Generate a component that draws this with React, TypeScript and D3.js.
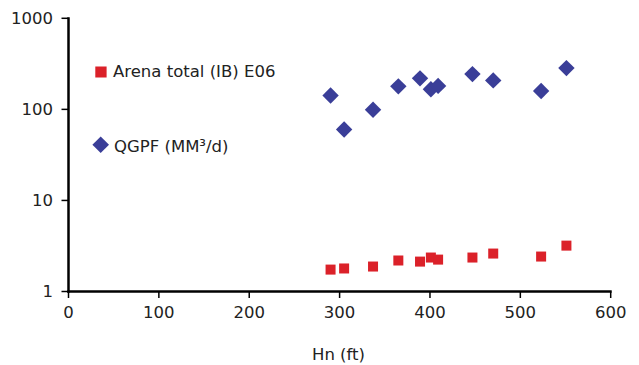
import React from "react";
import * as d3 from "d3";

const hn = [290, 305, 337, 365, 389, 401, 409, 447, 470, 523, 551];
const arenaTotal = [1.74, 1.79, 1.88, 2.19, 2.13, 2.36, 2.24, 2.36, 2.61, 2.42, 3.19];
const qgpf = [142, 60, 99, 179, 219, 166, 181, 244, 208, 159, 284];
const xTicks = [0, 100, 200, 300, 400, 500, 600];
const yTicks = [1, 10, 100, 1000];
const seriesNames = ["Arena total (IB) E06", "QGPF (MM³/d)"];

const RED = "#db2129";
const BLUE = "#3a3e98";
const FONT = "'DejaVu Sans', sans-serif";

export default function App() {
  const x = d3.scaleLinear().domain([0, 600]).range([68.5, 610.7]);
  const y = d3.scaleLog().domain([1, 1000]).range([291.5, 18.3]);
  const diamond = (cx: number, cy: number, r: number) =>
    `M${cx},${cy - r}L${cx + r},${cy}L${cx},${cy + r}L${cx - r},${cy}Z`;

  return (
    <svg
      width={639}
      height={365}
      style={{ position: "absolute", left: 0, top: 0, background: "#fff" }}
      fontFamily={FONT}
    >
      <rect width={639} height={365} fill="#fff" />
      {/* y axis */}
      <line x1={x(0)} x2={x(0)} y1={y(1000) - 1} y2={y(1) + 1.2} stroke="#000" strokeWidth={2.5} />
      {yTicks.map((t) => (
        <g key={"y" + t}>
          <line x1={x(0) - 7} x2={x(0)} y1={y(t)} y2={y(t)} stroke="#000" strokeWidth={1.5} />
          <text x={53} y={y(t) + 5.5} textAnchor="end" fontSize={16.5} fill="#222">
            {t}
          </text>
        </g>
      ))}
      {/* x axis */}
      <line x1={x(0) - 1.2} x2={x(600) + 1} y1={y(1)} y2={y(1)} stroke="#000" strokeWidth={2.5} />
      {xTicks.map((t) => (
        <g key={"x" + t}>
          <line x1={x(t)} x2={x(t)} y1={y(1)} y2={y(1) + 6.5} stroke="#000" strokeWidth={1.5} />
          <text x={x(t)} y={318.3} textAnchor="middle" fontSize={16.5} fill="#222">
            {t}
          </text>
        </g>
      ))}
      <text x={338.5} y={360} textAnchor="middle" fontSize={16.5} fill="#222">
        Hn (ft)
      </text>
      {/* data */}
      {hn.map((h, i) => (
        <rect key={"r" + i} x={x(h) - 5} y={y(arenaTotal[i]) - 5} width={10} height={10} fill={RED} />
      ))}
      {hn.map((h, i) => (
        <path key={"d" + i} d={diamond(x(h), y(qgpf[i]), 8.2)} fill={BLUE} />
      ))}
      {/* legend */}
      <rect x={95.3} y={66.5} width={11.3} height={11} fill={RED} />
      <text x={113} y={76.7} fontSize={16.5} fill="#222">
        {seriesNames[0]}
      </text>
      <path d={diamond(100.7, 144.7, 8.3)} fill={BLUE} />
      <text x={114} y={151.7} fontSize={16.5} fill="#222">
        {seriesNames[1]}
      </text>
    </svg>
  );
}
